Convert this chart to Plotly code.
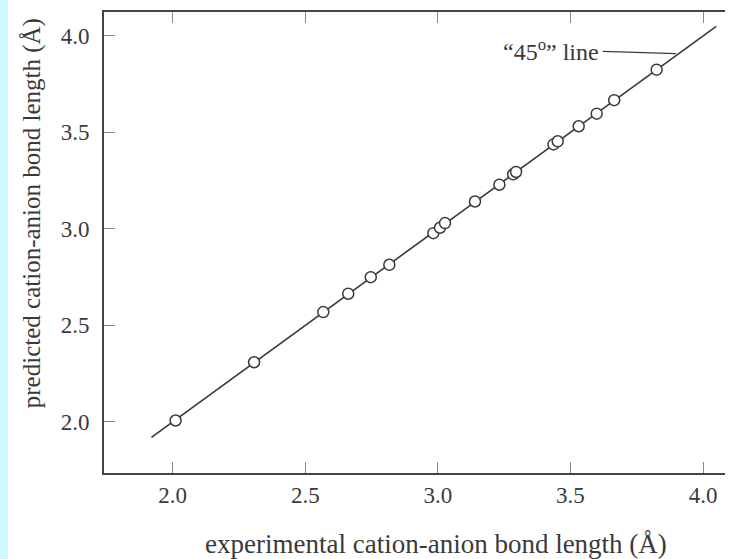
import plotly.graph_objects as go

# ---- data ----
experimental = [2.011, 2.307, 2.568, 2.662, 2.747, 2.817, 2.983, 3.008, 3.027,
                3.140, 3.232, 3.284, 3.295, 3.436, 3.452, 3.531, 3.599, 3.665, 3.825]
predicted = [2.007, 2.309, 2.569, 2.664, 2.750, 2.814, 2.978, 3.006, 3.030,
             3.142, 3.229, 3.283, 3.295, 3.438, 3.454, 3.532, 3.597, 3.667, 3.825]
line_x = [1.92, 4.05]
line_y = [1.92, 4.05]
tick_vals = [2.0, 2.5, 3.0, 3.5, 4.0]
tick_text = ["2.0", "2.5", "3.0", "3.5", "4.0"]
x_range = [1.741, 4.113]
y_range = [1.735, 4.124]
label_text = "“45<sup>o</sup>” line"
label_pos = [3.617, 3.925]
leader_x = [3.622, 3.898]
leader_y = [3.920, 3.908]
x_title = "experimental cation-anion bond length (Å)"
y_title = "predicted cation-anion bond length (Å)"

FONT = "Liberation Serif"
INK = "#3a3a3a"

fig = go.Figure()
fig.add_trace(go.Scatter(x=line_x, y=line_y, mode="lines",
                         line=dict(color=INK, width=1.6), hoverinfo="skip",
                         showlegend=False))
fig.add_trace(go.Scatter(x=experimental, y=predicted, mode="markers",
                         marker=dict(size=11, color="white",
                                     line=dict(color=INK, width=1.5)),
                         showlegend=False))
# right-side ticks (plot frame is cut off at the right in the reference)
fig.add_trace(go.Scatter(x=[None], y=[None], yaxis="y2", showlegend=False,
                         hoverinfo="skip"))

fig.add_shape(type="line", xref="x", yref="y",
              x0=leader_x[0], y0=leader_y[0], x1=leader_x[1], y1=leader_y[1],
              line=dict(color=INK, width=1.3))
fig.add_annotation(x=label_pos[0], y=label_pos[1], text=label_text,
                   showarrow=False, xanchor="right", yanchor="middle",
                   font=dict(family=FONT, size=24, color=INK))
# axis titles
fig.add_annotation(xref="paper", yref="paper", x=0.528, y=-0.153,
                   text=x_title, showarrow=False, xanchor="center", yanchor="middle",
                   font=dict(family=FONT, size=27, color=INK))
fig.add_annotation(xref="paper", yref="paper", x=-0.1145, y=0.5635,
                   text=y_title, showarrow=False, textangle=-90,
                   xanchor="center", yanchor="middle",
                   font=dict(family=FONT, size=25, color=INK))

axis_common = dict(ticks="inside", ticklen=11, tickwidth=1.3, tickcolor="#8a8a8a",
                   showgrid=False, zeroline=False,
                   tickfont=dict(family=FONT, size=23, color=INK),
                   tickvals=tick_vals, ticktext=tick_text)

fig.update_layout(
    width=725, height=551,
    margin=dict(l=96, r=0, t=4, b=86),
    paper_bgcolor="white", plot_bgcolor="white",
    xaxis=dict(range=x_range, showline=True, linecolor="#444", linewidth=2,
               mirror="ticks", **axis_common),
    yaxis=dict(range=y_range, showline=True, linecolor="#444", linewidth=2,
               mirror=False, ticklabelstandoff=8, **axis_common),
    yaxis2=dict(overlaying="y", side="right", matches="y", range=y_range,
                ticks="inside", ticklen=8, tickwidth=1.3, tickcolor="#8a8a8a",
                showticklabels=False, showgrid=False, zeroline=False,
                showline=False, tickvals=tick_vals),
)

# page background: light cyan strip on the far left edge, white elsewhere
page_bg = ("document.body.style.background="
           "'linear-gradient(to right, #cdf9ff 8px, #ffffff 8px)';")
fig.write_html("out.html", post_script=page_bg)
